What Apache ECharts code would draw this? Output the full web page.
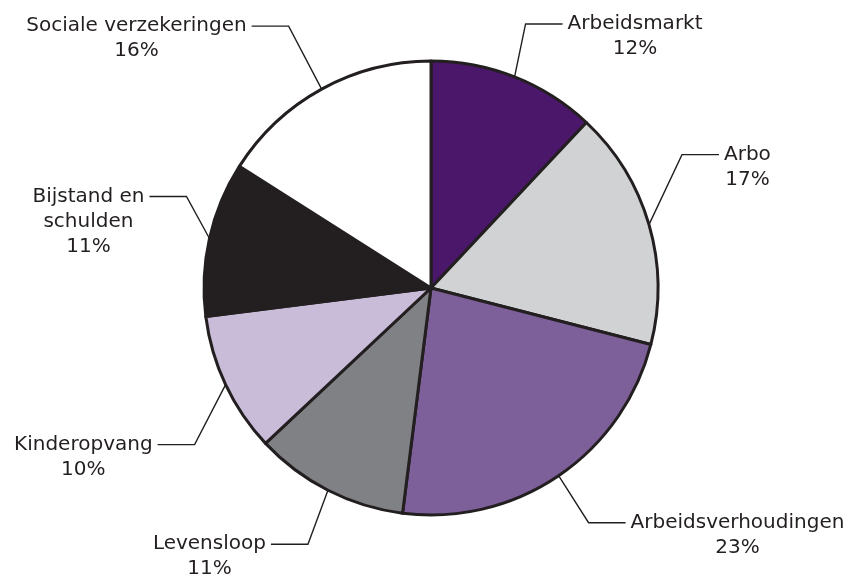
<!DOCTYPE html>
<html>
<head>
<meta charset="utf-8">
<script src="https://cdn.jsdelivr.net/npm/echarts@6/dist/echarts.min.js"></script>
<style>
  html, body { margin: 0; padding: 0; background: #fff; }
  #chart { width: 861px; height: 578px; }
</style>
</head>
<body>
<div id="chart"></div>
<script>
const categories = [
  "Arbeidsmarkt",
  "Arbo",
  "Arbeidsverhoudingen",
  "Levensloop",
  "Kinderopvang",
  "Bijstand en\nschulden",
  "Sociale verzekeringen"
];
const shares = [12, 17, 23, 11, 10, 11, 16];

const palette = ["#4a176b", "#d1d2d4", "#7d6099", "#808184", "#c8bcd9", "#231f20", "#ffffff"];

// where each leader line bends, relative to the slice edge
const elbowOffsets = [
  [11, -53], [33, -70], [30, 47], [-20, 54], [-31, 60], [-23, -42], [-33, -63]
];
const tailLength = 37;
const lineHeight = 25;

const chart = echarts.init(document.getElementById("chart"));

chart.setOption({
  animation: false,
  series: [
    {
      type: "pie",
      center: [431, 288],
      radius: 227,
      startAngle: 90,
      clockwise: true,
      silent: true,
      data: shares.map((value, index) => ({
        value,
        name: categories[index],
        itemStyle: { color: palette[index] },
      })),
      itemStyle: {
        borderColor: "#231f20",
        borderWidth: 3,
      },
      label: {
        show: true,
        position: "outside",
        fontFamily: "DejaVu Sans",
        fontSize: 20,
        color: "#231f20",
        formatter: (p) => {
          const lines = p.name.split("\n").concat([p.value + "%"]);
          return lines.map((l) => "{t|" + l + "}").join("\n");
        },
        rich: {
          t: {
            align: "center",
            fontFamily: "DejaVu Sans",
            fontSize: 20,
            lineHeight: lineHeight,
            color: "#231f20",
          },
        },
      },
      labelLine: {
        show: true,
        length: 20,
        length2: 20,
        lineStyle: {
          color: "#231f20",
          width: 1.4,
        },
      },
      labelLayout: (p) => {
        const start = p.labelLinePoints[0];
        const off = elbowOffsets[p.dataIndex];
        const right = off[0] > 0;
        const elbow = [start[0] + off[0], start[1] + off[1]];
        const end = [elbow[0] + (right ? tailLength : -tailLength), elbow[1]];
        return {
          x: end[0] + (right ? 5 : -5),
          y: elbow[1] - lineHeight / 2,
          align: right ? "left" : "right",
          verticalAlign: "top",
          labelLinePoints: [start, elbow, end],
        };
      },
    },
  ],
});
</script>
</body>
</html>
